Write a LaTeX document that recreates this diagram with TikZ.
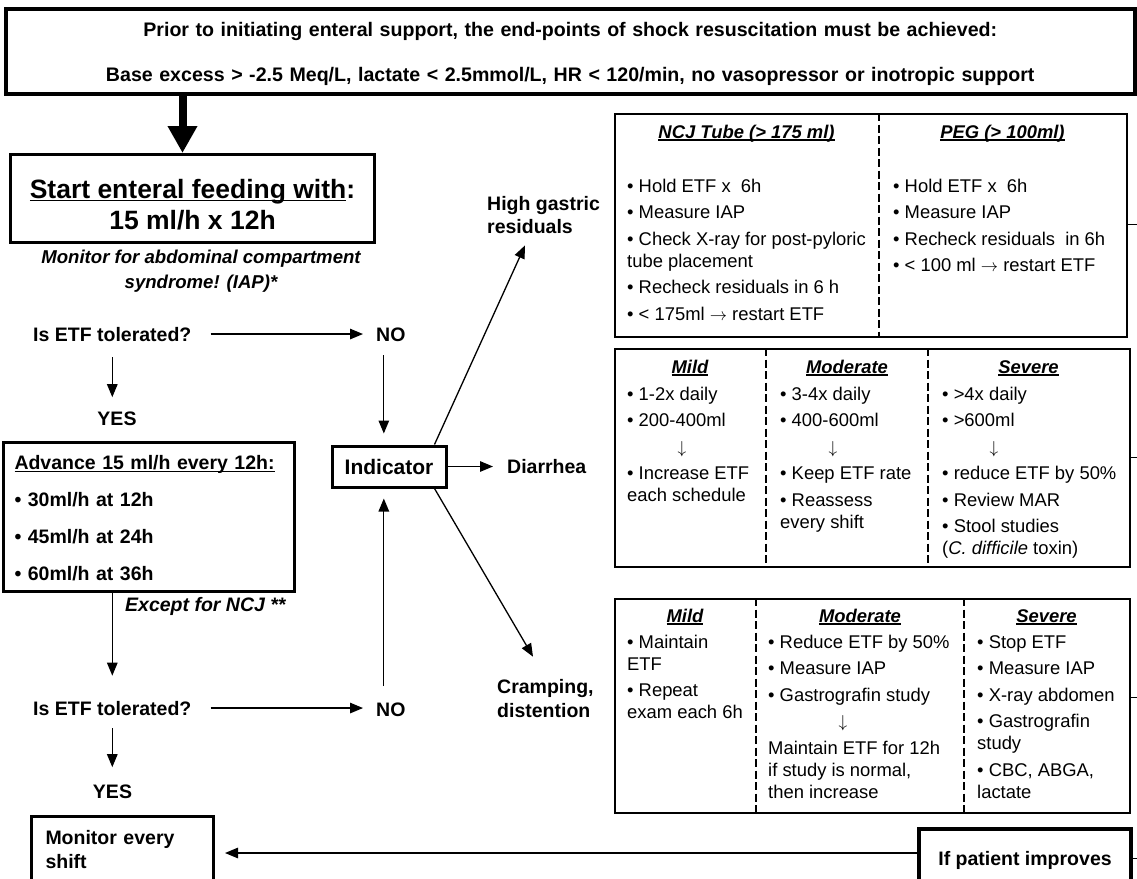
\documentclass[tikz,border=0pt]{standalone}
\usepackage{fontspec}
\setmainfont{Liberation Sans}
\usetikzlibrary{arrows.meta,calc}
\newsavebox\ulbox
\newcommand\myul[1]{\sbox\ulbox{#1}\rlap{\rule[-2.8pt]{\wd\ulbox}{1.4pt}}\usebox\ulbox}
\newcommand\lblf{\fontsize{19.5}{23.5}\selectfont\bfseries}
\newcommand\tblf{\fontsize{18.4}{22}\selectfont}
\newcommand\hdrf{\fontsize{18.4}{22}\selectfont\bfseries\itshape}
\newcommand\itf{\fontsize{18.6}{25}\selectfont\bfseries\itshape}
\begin{document}
\begin{tikzpicture}[x=1pt,y=-1pt,
  txt/.style={inner sep=0pt, anchor=base west},
  arr/.style={line width=1.3pt, -{Triangle[width=10.5pt,length=13pt]}},
  tframe/.style={draw, line width=2pt, anchor=north west, inner sep=0pt},
  dv/.style={line width=1.2pt, dash pattern=on 8pt off 3.5pt},
  stub/.style={line width=1pt}]
\useasboundingbox (0,0) rectangle (1137,878);

% banner
\node[draw, line width=3.5pt, anchor=north west, text width=1129pt, inner xsep=0pt, inner ysep=8pt,
  align=center, font=\fontsize{19.6}{45}\selectfont\bfseries] (banner) at (4,7)
  {\rule{0pt}{20pt}Prior to initiating enteral support, the end-points of shock resuscitation must be achieved:\\
   Base excess > -2.5 Meq/L, lactate < 2.5mmol/L, HR < 120/min, no vasopressor or inotropic support};

% start box
\node[draw, line width=3pt, anchor=north west, minimum width=364pt, inner xsep=0pt, inner ysep=12.5pt,
  align=center, font=\fontsize{26.5}{31}\selectfont\bfseries] (start) at (9,153)
  {\rule{0pt}{31.5pt}\myul{Start enteral feeding with}:\\15 ml/h x 12h};

\draw[line width=8pt, -{Triangle[width=28pt,length=27pt]}] ([xshift=-10pt]start.north |- banner.south) -- ([xshift=-10pt]start.north);

\node[txt, anchor=base] (monit) at (201,263) {\parbox[t]{340pt}{\centering\itf Monitor for abdominal compartment\\ syndrome! (IAP)*}};

\node[txt] (q1) at (33,341) {\lblf Is ETF tolerated?};
\node[txt] (no1) at (376,341) {\lblf NO};
\node[txt, anchor=base] (yes1) at (117,425) {\lblf YES};

\node[draw, line width=3pt, anchor=north west, text width=269pt, inner xsep=11pt, inner ysep=11pt,
  align=left, font=\fontsize{19.5}{37}\selectfont\bfseries] (adv) at (2,441)
  {\rule{0pt}{16pt}\myul{Advance 15 ml/h every 12h:}\\• 30ml/h at 12h\\• 45ml/h at 24h\\• 60ml/h at 36h};

\node[txt] (exc) at (125,611) {\fontsize{19.5}{25}\selectfont\bfseries\itshape Except for NCJ **};

\node[txt] (q2) at (33,715) {\lblf Is ETF tolerated?};
\node[txt] (no2) at (376,716) {\lblf NO};
\node[txt, anchor=base] (yes2) at (112.5,798) {\lblf YES};

\node[draw, line width=3pt, anchor=north west, text width=154pt, inner xsep=14pt, inner ysep=14pt,
  align=left, font=\fontsize{19.5}{24}\selectfont\bfseries] (mon) at (30,815)
  {\rule{0pt}{14pt}Monitor every\\shift};

\node[draw, line width=4pt, anchor=north west, minimum width=212pt, minimum height=63pt, inner sep=0pt,
  font=\lblf] (ifp) at (917,827) {If patient improves};

\node[draw, line width=3pt, minimum width=114pt, minimum height=41pt, inner sep=0pt,
  font=\fontsize{21}{25}\selectfont\bfseries] (ind) at (389,466.5) {Indicator};

\node[txt] (diar) at (507,473) {\lblf Diarrhea};
\node[txt] (hgr) at (487,210) {\parbox[t]{130pt}{\raggedright\lblf High gastric\\residuals}};
\node[txt] (cramp) at (497,693) {\parbox[t]{120pt}{\raggedright\fontsize{19.5}{24}\selectfont\bfseries Cramping,\\distention}};

% connectors left
\draw[arr, shorten <=19pt, shorten >=13pt] (q1.east) -- (q1.east -| no1.west);
\draw[arr, shorten <=16pt, shorten >=14pt] (q1.south) -- (q1.south |- yes1.north);
\draw[arr, shorten <=14pt, shorten >=11pt] ([xshift=-7pt]no1.south) -- ([xshift=-7pt]no1.south |- ind.north);
\draw[arr, shorten >=25pt] (q2.north |- adv.south) -- (q2.north);
\draw[arr, shorten <=19pt, shorten >=13pt] (q2.east) -- (q2.east -| no2.west);
\draw[arr, shorten <=13pt, shorten >=17pt] (q2.south) -- (q2.south |- yes2.north);
\draw[arr, shorten <=16pt, shorten >=10pt] ([xshift=-7pt]no2.north) -- ([xshift=-7pt]no2.north |- ind.south);
\draw[arr, shorten >=14pt] (ind.east) -- (ind.east -| diar.west);
\draw[arr] ([xshift=-13pt]ind.north east) -- ($(hgr.south west)+(38,11.5)$);
\draw[arr] ([xshift=-13pt]ind.south east) -- ($(cramp.north west)+(36,-22)$);
\draw[arr, shorten >=10pt] ([yshift=7.5pt]ifp.west) -- ([yshift=7.5pt]ifp.west -| mon.east);

% table 1
\node[tframe, minimum width=512pt, minimum height=223pt] (t1) at (614,113) {};
\draw[dv] ($(t1.north west)+(265,0)$) -- ($(t1.south west)+(265,0)$);
\node[txt, anchor=base] (h11) at (746.5,138) {\hdrf\myul{NCJ Tube (> 175 ml)}};
\node[txt, anchor=base] (h12) at (1002.5,138) {\hdrf\myul{PEG (> 100ml)}};
\node[txt] (c11) at (627,192) {\parbox[t]{248pt}{\raggedright\tblf • Hold ETF x\ \ 6h\\[4.5pt] • Measure IAP\\[4.5pt] • Check X-ray for post-pyloric\\ tube placement\\[4.5pt] • Recheck residuals in 6 h\\[4.5pt] • < 175ml $\rightarrow$ restart ETF}};
\node[txt] (c12) at (893,192) {\parbox[t]{230pt}{\raggedright\tblf • Hold ETF x\ \ 6h\\[4.5pt] • Measure IAP\\[4.5pt] • Recheck residuals\ \ in 6h\\[4.5pt] • < 100 ml $\rightarrow$ restart ETF}};

% table 2
\node[tframe, minimum width=515pt, minimum height=218pt] (t2) at (614,348) {};
\draw[dv] ($(t2.north west)+(152,0)$) -- ($(t2.south west)+(152,0)$);
\draw[dv] ($(t2.north west)+(314,0)$) -- ($(t2.south west)+(314,0)$);
\node[txt, anchor=base] (h21) at (690,373) {\hdrf\myul{Mild}};
\node[txt, anchor=base] (h22) at (847,373) {\hdrf\myul{Moderate}};
\node[txt, anchor=base] (h23) at (1028.5,373) {\hdrf\myul{Severe}};
\node[txt] (c21) at (627,400) {\parbox[t]{140pt}{\raggedright\tblf • 1-2x daily\\[4.5pt] • 200-400ml\\[4.5pt] \hspace*{50.5pt}$\downarrow$\\[4.5pt] • Increase ETF\\ each schedule}};
\node[txt] (c22) at (780,400) {\parbox[t]{150pt}{\raggedright\tblf • 3-4x daily\\[4.5pt] • 400-600ml\\[4.5pt] \hspace*{48.5pt}$\downarrow$\\[4.5pt] • Keep ETF rate\\[4.5pt] • Reassess\\ every shift}};
\node[txt] (c23) at (942,400) {\parbox[t]{190pt}{\raggedright\tblf • >4x daily\\[4.5pt] • >600ml\\[4.5pt] \hspace*{47.5pt}$\downarrow$\\[4.5pt] • reduce ETF by 50\%\\[4.5pt] • Review MAR\\[4.5pt] • Stool studies\\ (\textit{C. difficile} toxin)}};

% table 3
\node[tframe, minimum width=515pt, minimum height=214pt] (t3) at (614,598) {};
\draw[dv] ($(t3.north west)+(142,0)$) -- ($(t3.south west)+(142,0)$);
\draw[dv] ($(t3.north west)+(350,0)$) -- ($(t3.south west)+(350,0)$);
\node[txt, anchor=base] (h31) at (685,622) {\hdrf\myul{Mild}};
\node[txt, anchor=base] (h32) at (860,622) {\hdrf\myul{Moderate}};
\node[txt, anchor=base] (h33) at (1046.5,622) {\hdrf\myul{Severe}};
\node[txt] (c31) at (627,648) {\parbox[t]{130pt}{\raggedright\tblf • Maintain\\ ETF\\[4.5pt] • Repeat\\ exam each 6h}};
\node[txt] (c32) at (768,648) {\parbox[t]{200pt}{\raggedright\tblf • Reduce ETF by 50\%\\[4.5pt] • Measure IAP\\[4.5pt] • Gastrografin study\\[4.5pt] \hspace*{70.5pt}$\downarrow$\\[4.5pt] Maintain ETF for 12h\\ if study is normal,\\ then increase}};
\node[txt] (c33) at (977,648) {\parbox[t]{150pt}{\raggedright\tblf • Stop ETF\\[4.5pt] • Measure IAP\\[4.5pt] • X-ray abdomen\\[4.5pt] • Gastrografin\\ study\\[4.5pt] • CBC, ABGA,\\ lactate}};

% stubs to the right edge
\coordinate (s1) at (1137,224.5);
\coordinate (s2) at (1137,457);
\coordinate (s3) at (1137,697);
\coordinate (s4) at (1137,858.5);
\draw[stub] (s1 -| t1.east) -- (s1);
\draw[stub] (s2 -| t2.east) -- (s2);
\draw[stub] (s3 -| t3.east) -- (s3);
\draw[stub] (s4 -| ifp.east) -- (s4);
\end{tikzpicture}
\end{document}
